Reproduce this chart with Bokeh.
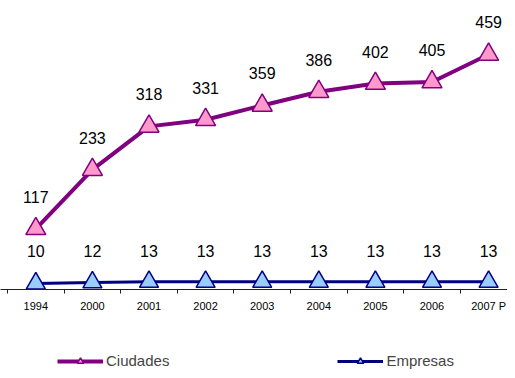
from bokeh.plotting import figure
from bokeh.models import (ColumnDataSource, Range1d, FixedTicker, Legend, LegendItem,
                          LabelSet)
from bokeh.layouts import column
from bokeh.core.properties import value
from bokeh.embed import file_html
from bokeh.resources import INLINE

years = ["1994", "2000", "2001", "2002", "2003", "2004", "2005", "2006", "2007 P"]
ciudades = [117, 233, 318, 331, 359, 386, 402, 405, 459]
empresas = [10, 12, 13, 13, 13, 13, 13, 13, 13]
series_names = ["Ciudades", "Empresas"]

xpos = [i + 0.5 for i in range(len(years))]
src = ColumnDataSource(dict(x=xpos, c=ciudades, e=empresas,
                            cl=[str(v) for v in ciudades],
                            el=[str(v) for v in empresas],
                            ey=[13] * len(empresas)))

FONT = "Liberation Sans"
C_LINE, C_FILL = "#800080", "#FF99CC"
E_LINE, E_FILL = "#000080", "#99CCFF"

p = figure(width=507, height=314, output_backend="svg", toolbar_location=None,
           x_range=Range1d(-0.124, 8.834), y_range=Range1d(-1.96, 564.9),
           y_axis_location=None, min_border_left=0, min_border_right=0,
           min_border_top=0, min_border_bottom=25)
p.outline_line_color = None
p.xgrid.visible = False
p.ygrid.visible = False

p.line("x", "c", source=src, line_color=C_LINE, line_width=4)
p.scatter("x", "c", source=src, marker="triangle", size=20,
          fill_color=C_FILL, line_color=C_LINE, line_width=1.5)
p.line("x", "e", source=src, line_color=E_LINE, line_width=3)
p.scatter("x", "e", source=src, marker="triangle", size=19,
          fill_color=E_FILL, line_color=E_LINE, line_width=1.5)

p.add_layout(LabelSet(x="x", y="c", text="cl", source=src, y_offset=32,
                      text_align="center", text_baseline="middle",
                      text_font=value(FONT), text_font_size=value("16px"),
                      text_color="black"))
p.add_layout(LabelSet(x="x", y="ey", text="el", source=src, y_offset=31,
                      text_align="center", text_baseline="middle",
                      text_font=value(FONT), text_font_size=value("16px"),
                      text_color="black"))

ax = p.xaxis[0]
ax.ticker = FixedTicker(ticks=xpos, minor_ticks=list(range(0, 10)))
ax.major_label_overrides = {x: y for x, y in zip(xpos, years)}
ax.major_tick_out = 0
ax.major_tick_in = 0
ax.minor_tick_out = 4
ax.minor_tick_in = 0
ax.minor_tick_line_color = "#202020"
ax.axis_line_color = "#202020"
ax.major_label_text_font = FONT
ax.major_label_text_font_size = "11px"
ax.major_label_text_color = "black"
ax.major_label_standoff = 6

# legend strip below the chart (proxy renderers with no visible points)
q = figure(width=507, height=56, output_backend="svg", toolbar_location=None,
           x_range=Range1d(0, 1), y_range=Range1d(0, 1),
           x_axis_location=None, y_axis_location=None,
           min_border_left=0, min_border_right=0, min_border_top=0, min_border_bottom=0)
q.outline_line_color = None
q.xgrid.visible = False
q.ygrid.visible = False
nan = float("nan")
proxy = ColumnDataSource(dict(x=[nan], y=[nan]))
ql1 = q.line("x", "y", source=proxy, line_color=C_LINE, line_width=4)
qs1 = q.scatter("x", "y", source=proxy, marker="triangle", size=20,
                fill_color=C_FILL, line_color=C_LINE, line_width=1.5)
ql2 = q.line("x", "y", source=proxy, line_color=E_LINE, line_width=3)
qs2 = q.scatter("x", "y", source=proxy, marker="triangle", size=19,
                fill_color=E_FILL, line_color=E_LINE, line_width=1.5)

legend = Legend(items=[LegendItem(label=series_names[0], renderers=[ql1, qs1]),
                       LegendItem(label=series_names[1], renderers=[ql2, qs2])],
                location=(57, 1), orientation="horizontal",
                glyph_width=46, glyph_height=16, label_standoff=3, spacing=168,
                padding=0, margin=0, border_line_color=None,
                background_fill_alpha=0, label_text_font=FONT,
                label_text_font_size="15px", label_height=16)
q.add_layout(legend, "center")

open("out.html", "w").write(file_html(column(p, q, spacing=0), INLINE))
